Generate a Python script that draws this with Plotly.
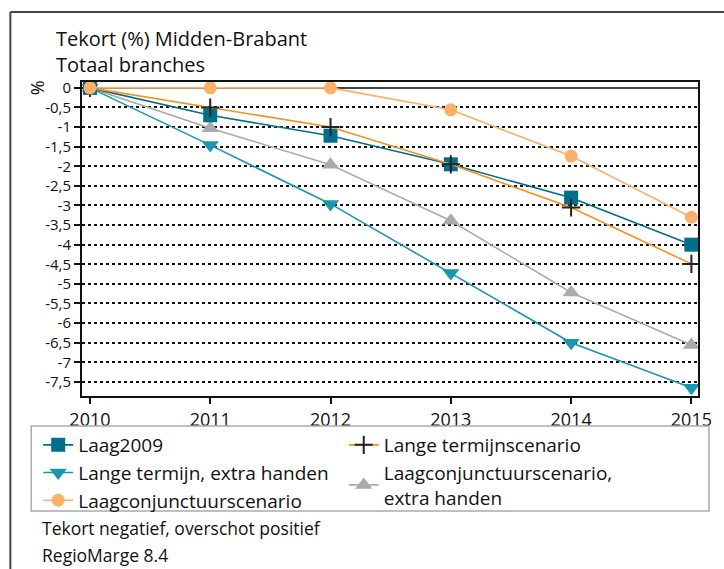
import plotly.graph_objects as go

years = [2010, 2011, 2012, 2013, 2014, 2015]

laag2009 = [0, -0.7, -1.22, -1.95, -2.8, -4.0]
lange_termijn = [0, -0.5, -1.0, -1.95, -3.05, -4.49]
lange_termijn_extra = [0, -1.46, -2.96, -4.72, -6.5, -7.65]
laagconj = [0, 0, 0, -0.56, -1.74, -3.3]
laagconj_extra = [0, -1.03, -1.96, -3.39, -5.22, -6.56]

ytickvals = [0, -0.5, -1, -1.5, -2, -2.5, -3, -3.5, -4, -4.5, -5, -5.5, -6, -6.5, -7, -7.5]
yticktext = ["0", "-0,5", "-1", "-1,5", "-2", "-2,5", "-3", "-3,5", "-4", "-4,5",
             "-5", "-5,5", "-6", "-6,5", "-7", "-7,5"]
xtickvals = years
xticktext = ["2010", "2011", "2012", "2013", "2014", "2015"]

FONT = "Open Sans"

fig = go.Figure()

fig.add_trace(go.Scatter(
    x=years, y=laagconj_extra, name="Laagconjunctuurscenario,<br>extra handen",
    mode="lines+markers", legend="legend2", legendrank=2,
    line=dict(color="#ababab", width=1.6),
    marker=dict(symbol="triangle-up", size=15, color="#ababab")))

fig.add_trace(go.Scatter(
    x=years, y=lange_termijn_extra, name="Lange termijn, extra handen",
    mode="lines+markers", legend="legend", legendrank=2,
    line=dict(color="#1b97ad", width=1.6),
    marker=dict(symbol="triangle-down", size=15, color="#1b97ad")))

fig.add_trace(go.Scatter(
    x=years, y=laag2009, name="Laag2009",
    mode="lines+markers", legend="legend", legendrank=1,
    line=dict(color="#006f8c", width=1.6),
    marker=dict(symbol="square", size=14, color="#006f8c")))

fig.add_trace(go.Scatter(
    x=years, y=lange_termijn, name="Lange termijnscenario",
    mode="lines+markers", legend="legend2", legendrank=1,
    line=dict(color="#f7901e", width=1.6),
    marker=dict(symbol="cross-thin", size=13, color="#222222",
                line=dict(color="#222222", width=2))))

fig.add_trace(go.Scatter(
    x=years, y=laagconj, name="Laagconjunctuurscenario",
    mode="lines+markers", legend="legend", legendrank=3,
    line=dict(color="#fbb06a", width=1.6),
    marker=dict(symbol="circle", size=13, color="#fbb06a")))

W, H = 724, 569
L, T = 82, 82
R = W - 701
B = H - 396
pw, ph = W - L - R, H - T - B


def px(x):
    return (x - L) / pw


def py(y):
    return (H - B - y) / ph


frame = dict(color="#444444", width=2)

fig.update_layout(
    width=W, height=H,
    margin=dict(l=L, r=R, t=T, b=B),
    paper_bgcolor="white", plot_bgcolor="white",
    font=dict(family=FONT, size=17, color="#111111"),
    showlegend=True,
    legend=dict(x=px(38), y=py(426), xanchor="left", yanchor="top",
                bgcolor="rgba(0,0,0,0)", font=dict(size=19), tracegroupgap=0,
                itemwidth=30),
    legend2=dict(x=px(345), y=py(426), xanchor="left", yanchor="top",
                 bgcolor="rgba(0,0,0,0)", font=dict(size=19), tracegroupgap=0,
                 itemwidth=30),
    xaxis=dict(range=[2009.934, 2015.055], tickvals=xtickvals, ticktext=xticktext,
               showgrid=False, zeroline=False, showline=True, mirror=True,
               linecolor="#111111", linewidth=2, ticks="outside", ticklen=6,
               tickcolor="#111111", tickwidth=1.5, tickfont=dict(size=18)),
    yaxis=dict(range=[-7.86, 0.15], tickvals=ytickvals, ticktext=yticktext,
               showgrid=True, gridcolor="#111111", gridwidth=1.5, griddash="dot",
               zeroline=True, zerolinecolor="#444444", zerolinewidth=2,
               showline=True, mirror=True, linecolor="#111111", linewidth=2,
               ticks="outside", ticklen=6, tickcolor="#111111", tickwidth=1.5,
               tickfont=dict(size=15)),
    shapes=[
        dict(type="line", xref="paper", yref="paper",
             x0=px(10), x1=px(740), y0=py(12), y1=py(12), line=frame),
        dict(type="line", xref="paper", yref="paper",
             x0=px(10), x1=px(10), y0=py(12), y1=py(600), line=frame),
        dict(type="rect", xref="paper", yref="paper",
             x0=px(31), x1=px(712), y0=py(511), y1=py(426),
             line=dict(color="#aaaaaa", width=1.5), fillcolor="rgba(0,0,0,0)"),
    ],
    annotations=[
        dict(text="Tekort (%) Midden-Brabant", xref="paper", yref="paper",
             x=px(54), y=py(38), xanchor="left", yanchor="middle",
             showarrow=False, font=dict(size=20)),
        dict(text="Totaal branches", xref="paper", yref="paper",
             x=px(54), y=py(64), xanchor="left", yanchor="middle",
             showarrow=False, font=dict(size=20)),
        dict(text="%", xref="paper", yref="paper", textangle=-90,
             x=px(37), y=py(88), xanchor="center", yanchor="middle",
             showarrow=False, font=dict(size=18)),
        dict(text="Tekort negatief, overschot positief", xref="paper", yref="paper",
             x=px(40), y=py(528), xanchor="left", yanchor="middle",
             showarrow=False, font=dict(size=17.5)),
        dict(text="RegioMarge 8.4", xref="paper", yref="paper",
             x=px(40), y=py(555), xanchor="left", yanchor="middle",
             showarrow=False, font=dict(size=17.5)),
    ],
)

fig.write_html(
    "out.html",
    config={"displayModeBar": False},
    post_script="document.body.style.margin='0';document.body.style.overflow='hidden';",
)
